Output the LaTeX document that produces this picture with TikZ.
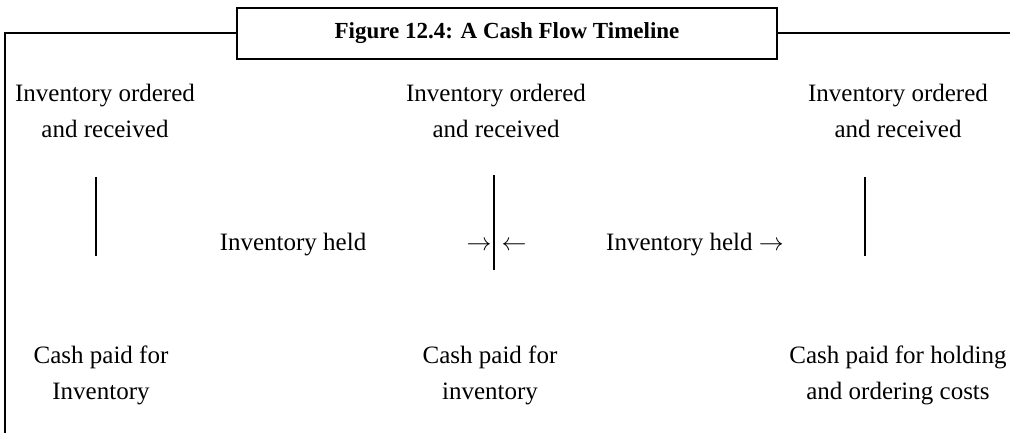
\documentclass[tikz,border=0pt]{standalone}
\usepackage{fontspec}
\setmainfont{Liberation Serif}
\begin{document}
\begin{tikzpicture}[x=1pt,y=-1pt,
  lbl/.style={align=center,font=\fontsize{25}{36}\selectfont,inner sep=0pt},
  held/.style={font=\fontsize{25}{30}\selectfont,inner sep=0pt,anchor=base},
  tick/.style={line width=1.5pt},
  frame/.style={line width=2pt}]
\useasboundingbox (0,0) rectangle (1010,433);
% title box and frame
\node[draw,frame,minimum width=540pt,minimum height=51pt,inner sep=0pt,
  font=\fontsize{23}{26}\selectfont\bfseries] (title) at (507,33.5) {Figure 12.4: A Cash Flow Timeline};
\coordinate (fl) at (5,33.5);
\coordinate (fb) at (5,433);
\coordinate (fr) at (1010,33.5);
\draw[frame] (fb) -- (fl) -- (title.west);
\draw[frame] (title.east) -- (fr);
% top labels
\node[lbl] (o1) at (105,111) {Inventory ordered\\and received};
\node[lbl] (o2) at (496,111) {Inventory ordered\\and received};
\node[lbl] (o3) at (898,111) {Inventory ordered\\and received};
% vertical markers
\coordinate (m1t) at (96,177); \coordinate (m1b) at (96,256);
\coordinate (m2t) at (494,175); \coordinate (m2b) at (494,270);
\coordinate (m3t) at (865,177); \coordinate (m3b) at (865,256);
\draw[tick] (m1t) -- (m1b);
\draw[tick] (m2t) -- (m2b);
\draw[tick] (m3t) -- (m3b);
% held labels
\node[held] (h1) at (293,250) {Inventory held};
\node[held] (ar1) at (479,250) {$\rightarrow$};
\node[held] (ar2) at (514,250) {$\leftarrow$};
\node[held] (h2) at (695,250) {Inventory held $\rightarrow$};
% bottom labels
\node[lbl] (c1) at (101,375) {Cash paid for\\Inventory};
\node[lbl] (c2) at (490,375) {Cash paid for\\inventory};
\node[lbl] (c3) at (898,375) {Cash paid for holding\\and ordering costs};
\end{tikzpicture}
\end{document}
